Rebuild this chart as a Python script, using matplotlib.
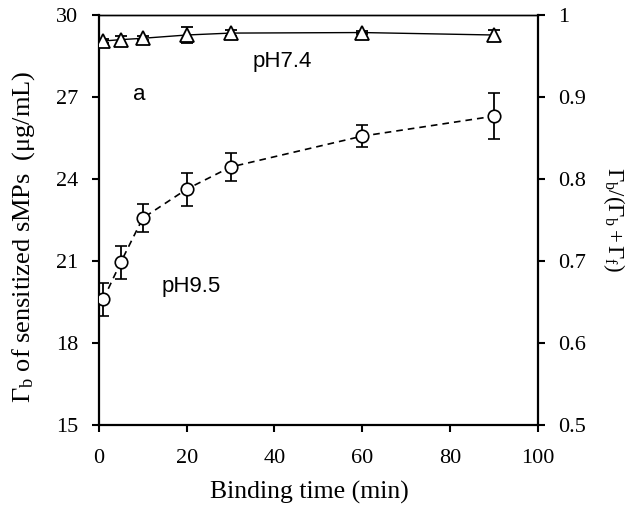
import matplotlib

matplotlib.use("Agg")
import matplotlib.pyplot as plt

# binding time (min)
time_min = [1, 5, 10, 20, 30, 60, 90]

# pH 9.5 (circles, dashed)
ph95_mean = [19.6, 20.96, 22.57, 23.63, 24.44, 25.57, 26.3]
ph95_err = [0.6, 0.6, 0.5, 0.6, 0.5, 0.4, 0.85]

# pH 7.4 (triangles, solid)
ph74_mean = [29.05, 29.1, 29.15, 29.27, 29.34, 29.36, 29.27]
ph74_err = [0.08, 0.15, 0.08, 0.3, 0.1, 0.05, 0.2]

left_ticks = [15, 18, 21, 24, 27, 30]
right_ticks = [0.5, 0.6, 0.7, 0.8, 0.9, 1.0]
right_labels = ["0.5", "0.6", "0.7", "0.8", "0.9", "1"]
x_ticks = [0, 20, 40, 60, 80, 100]

serif = "Liberation Serif"
sans = "Liberation Sans"

plt.rcParams["mathtext.fontset"] = "custom"
plt.rcParams["mathtext.rm"] = serif
plt.rcParams["mathtext.it"] = serif + ":italic"
plt.rcParams["mathtext.bf"] = serif + ":bold"

fig = plt.figure(figsize=(6.26, 5.19), dpi=100)
ax = fig.add_axes([0.158, 0.181, 0.701, 0.790])

ax.errorbar(time_min, ph95_mean, yerr=ph95_err, fmt="o", ls="--", color="black",
            mfc="white", mec="black", ms=9, mew=1.2, lw=1.2, capsize=4, elinewidth=1.3,
            capthick=1.3, dashes=(4, 3), zorder=3)
ax.errorbar(time_min, ph74_mean, yerr=ph74_err, fmt="^", ls="-", color="black",
            mfc="white", mec="black", ms=9.5, mew=1.3, lw=1.0, capsize=4, elinewidth=1.3,
            capthick=1.3, zorder=3)

ax.set_xlim(0, 100)
ax.set_ylim(15, 30)
ax.set_xticks(x_ticks)
ax.set_yticks(left_ticks)
ax.tick_params(direction="out", length=5, width=1.5, labelsize=16)
ax.tick_params(axis="x", pad=12)
ax.tick_params(axis="y", pad=10)
for lab in ax.get_xticklabels() + ax.get_yticklabels():
    lab.set_fontfamily(serif)

for side in ["left", "bottom"]:
    ax.spines[side].set_linewidth(1.6)
ax.spines["top"].set_linewidth(1.0)
ax.spines["right"].set_visible(False)

ax.set_xlabel("Binding time (min)", fontfamily=serif, fontsize=18.5)
ax.xaxis.set_label_coords(0.48, -0.135)
ax.set_ylabel(r"$\Gamma_{\rm b}$ of sensitized sMPs  (μg/mL)", fontfamily=serif,
              fontsize=19)
ax.yaxis.set_label_coords(-0.14, 0.46)

ax2 = ax.twinx()
ax2.set_ylim(0.5, 1.0)
ax2.set_yticks(right_ticks)
ax2.set_yticklabels(right_labels, fontfamily=serif)
ax2.tick_params(direction="out", length=5, width=1.5, labelsize=16, pad=10)
ax2.spines["right"].set_linewidth(1.6)
ax2.spines["top"].set_linewidth(1.0)
for side in ["left", "bottom"]:
    ax2.spines[side].set_visible(False)
ax2.set_ylabel(r"$\Gamma_{\rm b}/(\Gamma_{\rm b}+\Gamma_{\rm f})$", fontfamily=serif,
               fontsize=16.5, rotation=270, labelpad=29)

ax.text(35, 28.1, "pH7.4", fontfamily=sans, fontsize=16, va="baseline")
ax.text(7.7, 26.9, "a", fontfamily=sans, fontsize=16, va="baseline")
ax.text(14.35, 19.86, "pH9.5", fontfamily=sans, fontsize=16, va="baseline")

fig.savefig("out.png", dpi=100)
